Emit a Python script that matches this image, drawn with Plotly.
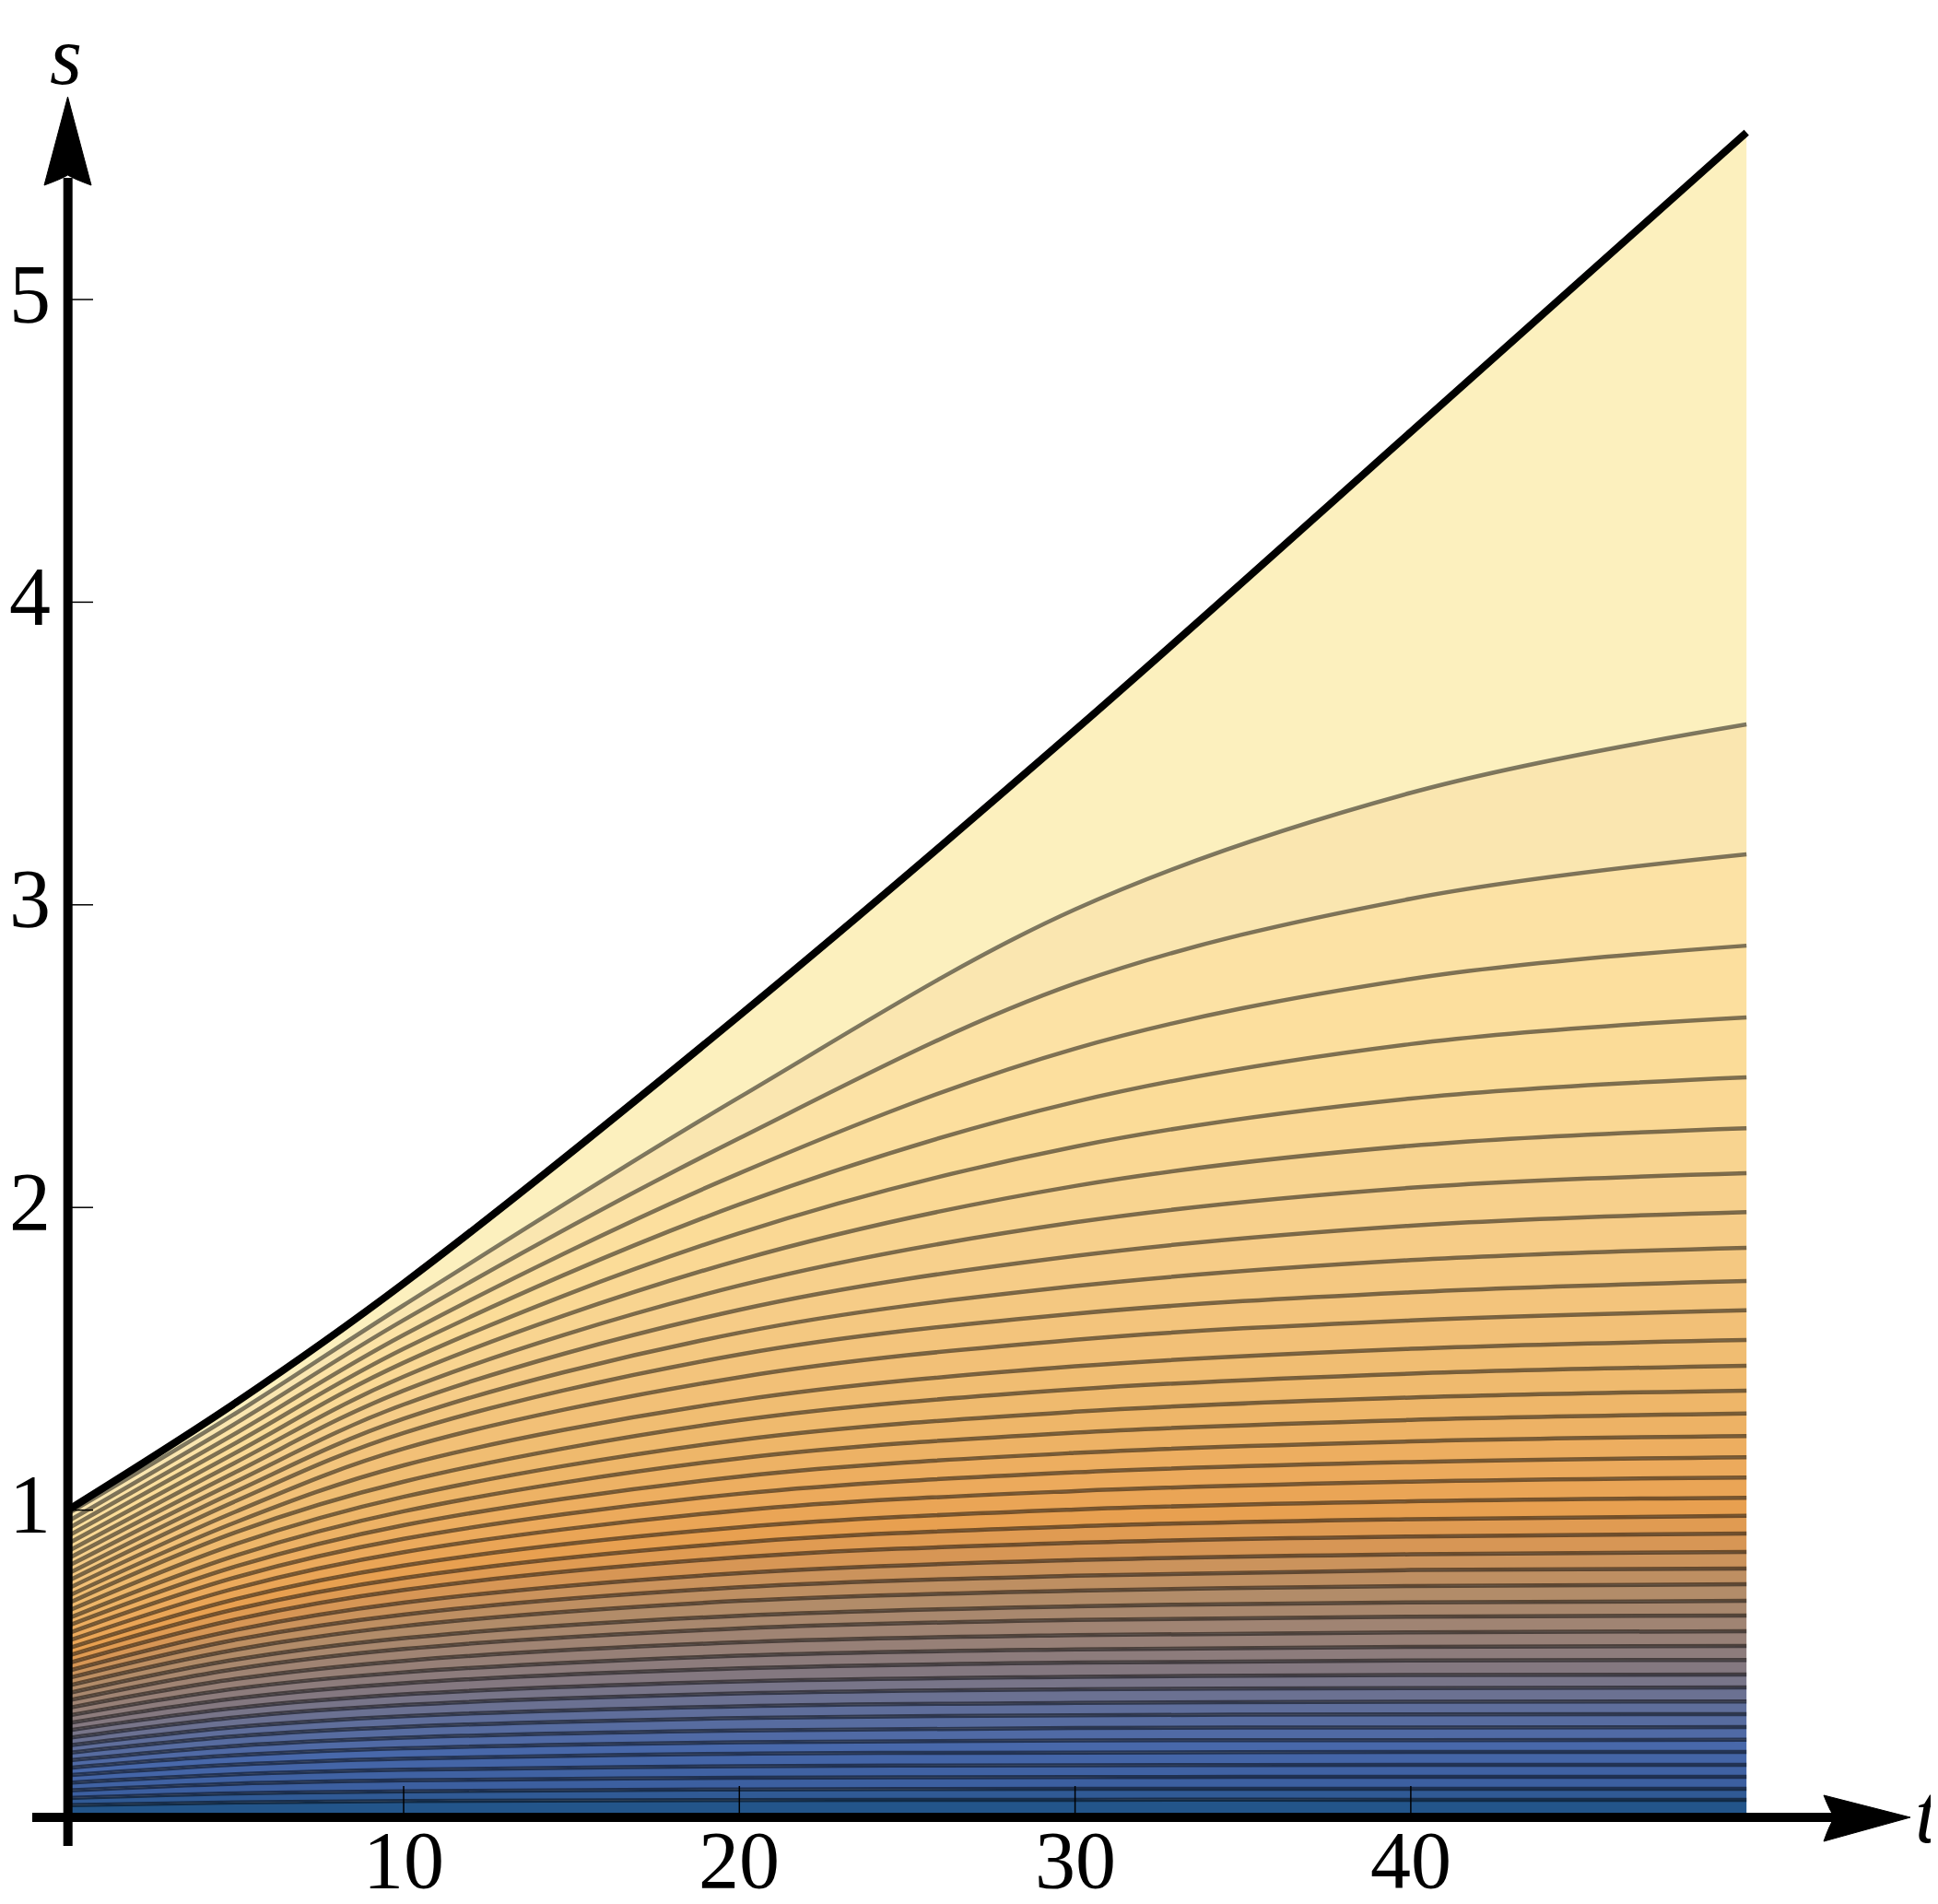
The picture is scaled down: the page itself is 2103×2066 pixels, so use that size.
import plotly.graph_objects as go
from plotly.colors import sample_colorscale

# ---------------- data ----------------
T_SAMPLES = [0, 5, 10, 20, 30, 40, 50]

# contour lines (bottom -> top): value of s at each t sample
S_T0 = [0.025, 0.049, 0.074, 0.099, 0.124, 0.148, 0.173, 0.198, 0.222, 0.247,
        0.272, 0.296, 0.321, 0.346, 0.371, 0.395, 0.420, 0.445, 0.469, 0.494,
        0.519, 0.543, 0.568, 0.593, 0.618, 0.642, 0.667, 0.692, 0.716, 0.741,
        0.766, 0.790, 0.815, 0.840, 0.864, 0.889, 0.914, 0.939, 0.963, 0.988]
S_T5 = [0.034, 0.064, 0.096, 0.127, 0.159, 0.190, 0.221, 0.253, 0.283, 0.315,
        0.346, 0.378, 0.410, 0.442, 0.475, 0.506, 0.539, 0.572, 0.604, 0.639,
        0.673, 0.706, 0.742, 0.778, 0.814, 0.850, 0.888, 0.927, 0.960, 0.995,
        1.030, 1.062, 1.094, 1.126, 1.158, 1.190, 1.222, 1.254, 1.287, 1.320]
S_T10 = [0.039, 0.071, 0.107, 0.142, 0.179, 0.213, 0.248, 0.284, 0.319, 0.356,
         0.391, 0.428, 0.464, 0.502, 0.541, 0.577, 0.617, 0.655, 0.694, 0.736,
         0.776, 0.817, 0.861, 0.905, 0.950, 0.996, 1.044, 1.094, 1.148, 1.203,
         1.255, 1.302, 1.349, 1.395, 1.441, 1.487, 1.533, 1.579, 1.628, 1.677]
S_T20 = [0.042, 0.077, 0.116, 0.154, 0.195, 0.233, 0.272, 0.313, 0.352, 0.394,
         0.434, 0.477, 0.519, 0.563, 0.609, 0.651, 0.700, 0.745, 0.792, 0.844,
         0.893, 0.943, 0.999, 1.054, 1.111, 1.171, 1.232, 1.297, 1.363, 1.439,
         1.514, 1.586, 1.662, 1.742, 1.826, 1.915, 2.010, 2.113, 2.229, 2.364]
S_T30 = [0.043, 0.079, 0.118, 0.157, 0.199, 0.239, 0.280, 0.322, 0.363, 0.408,
         0.449, 0.496, 0.540, 0.587, 0.637, 0.682, 0.734, 0.783, 0.835, 0.892,
         0.946, 1.002, 1.063, 1.125, 1.189, 1.256, 1.325, 1.399, 1.475, 1.563,
         1.649, 1.740, 1.840, 1.951, 2.071, 2.201, 2.349, 2.525, 2.740, 2.985]
S_T40 = [0.043, 0.079, 0.119, 0.158, 0.201, 0.240, 0.282, 0.325, 0.367, 0.412,
         0.455, 0.503, 0.548, 0.596, 0.648, 0.695, 0.749, 0.802, 0.854, 0.913,
         0.970, 1.029, 1.094, 1.159, 1.227, 1.298, 1.372, 1.451, 1.533, 1.627,
         1.720, 1.826, 1.940, 2.065, 2.204, 2.360, 2.540, 2.755, 3.020, 3.370]
S_T50 = [0.043, 0.079, 0.119, 0.158, 0.201, 0.241, 0.283, 0.326, 0.368, 0.414,
         0.457, 0.505, 0.551, 0.600, 0.652, 0.700, 0.755, 0.807, 0.862, 0.923,
         0.981, 1.041, 1.108, 1.175, 1.245, 1.319, 1.395, 1.477, 1.562, 1.660,
         1.757, 1.867, 1.985, 2.113, 2.262, 2.430, 2.628, 2.865, 3.167, 3.596]

# upper boundary curve
BOUNDARY_T = [0, 5, 10, 20, 30, 40, 50]
BOUNDARY_S = [1.0, 1.355, 1.749, 2.634, 3.577, 4.562, 5.552]

X_TICKS = [10, 20, 30, 40]
Y_TICKS = [1, 2, 3, 4, 5]
X_LABEL = "t"
Y_LABEL = "s"

# ---------------- geometry of the canvas ----------------
W, H = 2103, 2066
PX_T = 36.43      # pixels per unit t
PX_S = 328.4      # pixels per unit s
ORIG_X = 65.7     # pixel x of t=0
ORIG_Y = 1959.0   # pixel y (from top) of s=0
X_RANGE = [-ORIG_X / PX_T, (W - ORIG_X) / PX_T]
Y_RANGE = [-(H - ORIG_Y) / PX_S, ORIG_Y / PX_S]


def tx(px):  # pixel x -> data t
    return (px - ORIG_X) / PX_T


def sy(py):  # pixel y (from top) -> data s
    return (ORIG_Y - py) / PX_S


FONT = "Liberation Serif, Times New Roman, serif"

columns = [S_T0, S_T5, S_T10, S_T20, S_T30, S_T40, S_T50]
n_lines = len(S_T0)
contours = [[col[k] for col in columns] for k in range(n_lines)]

palette = [
    [0.0, "rgb(35,85,138)"], [0.05, "rgb(60,95,160)"], [0.125, "rgb(72,104,170)"],
    [0.2, "rgb(95,110,155)"], [0.275, "rgb(132,120,128)"], [0.35, "rgb(160,132,115)"],
    [0.4, "rgb(178,140,105)"], [0.475, "rgb(215,150,85)"], [0.525, "rgb(232,160,80)"],
    [0.575, "rgb(236,170,92)"], [0.65, "rgb(238,182,105)"], [0.75, "rgb(243,196,124)"],
    [0.825, "rgb(247,208,140)"], [0.9, "rgb(251,220,152)"], [0.95, "rgb(252,226,165)"],
    [0.975, "rgb(250,230,176)"], [1.0, "rgb(252,240,190)"],
]
band_colors = sample_colorscale(palette, [j / n_lines for j in range(n_lines + 1)])

fig = go.Figure()

# baseline s=0
fig.add_trace(go.Scatter(x=[T_SAMPLES[0], T_SAMPLES[-1]], y=[0, 0], mode="lines",
                         line=dict(width=0), hoverinfo="skip", showlegend=False))
# filled bands between successive contours
for k in range(n_lines):
    fig.add_trace(go.Scatter(x=T_SAMPLES, y=contours[k], mode="lines",
                             line=dict(width=0, shape="spline"), fill="tonexty",
                             fillcolor=band_colors[k], hoverinfo="skip", showlegend=False))
fig.add_trace(go.Scatter(x=BOUNDARY_T, y=BOUNDARY_S, mode="lines",
                         line=dict(width=0, shape="spline"), fill="tonexty",
                         fillcolor=band_colors[n_lines], hoverinfo="skip", showlegend=False))
# contour lines
for k in range(n_lines):
    fig.add_trace(go.Scatter(x=T_SAMPLES, y=contours[k], mode="lines",
                             line=dict(width=4.5, color="rgba(0,0,0,0.5)", shape="spline"),
                             hoverinfo="skip", showlegend=False))
# boundary
fig.add_trace(go.Scatter(x=BOUNDARY_T, y=BOUNDARY_S, mode="lines",
                         line=dict(width=8, color="black", shape="spline"),
                         hoverinfo="skip", showlegend=False))

shapes = []
axis_s = sy(1964)
# axis lines
shapes.append(dict(type="line", xref="x", yref="y", x0=tx(27), x1=tx(1985),
                   y0=axis_s, y1=axis_s, line=dict(color="black", width=10)))
shapes.append(dict(type="line", xref="x", yref="y", x0=0, x1=0,
                   y0=sy(1995), y1=sy(185), line=dict(color="black", width=10)))


def arrow_path(pts):
    (tip, c1, ctl1, notch, ctl2, c2) = pts
    f = lambda p: f"{p[0]},{p[1]}"
    return f"M {f(tip)} L {f(c1)} Q {f(ctl1)} {f(notch)} Q {f(ctl2)} {f(c2)} Z"


xa = [(tx(2065), sy(1964)), (tx(1971), sy(1940)), (tx(1978), sy(1958)),
      (tx(1983), sy(1964)), (tx(1978), sy(1970)), (tx(1971), sy(1990))]
ya = [(tx(65.5), sy(97)), (tx(40), sy(193)), (tx(59), sy(186)),
      (tx(65.5), sy(182)), (tx(72), sy(186)), (tx(91), sy(193))]
for pts in (xa, ya):
    shapes.append(dict(type="path", xref="x", yref="y", path=arrow_path(pts),
                       fillcolor="black", line=dict(color="black", width=1)))

# ticks (inside)
for xt in X_TICKS:
    shapes.append(dict(type="line", xref="x", yref="y", x0=xt, x1=xt,
                       y0=0, y1=sy(1930), line=dict(color="black", width=1.5)))
for yt in Y_TICKS:
    shapes.append(dict(type="line", xref="x", yref="y", x0=0, x1=tx(93),
                       y0=yt, y1=yt, line=dict(color="black", width=1.5)))

annotations = []
for xt in X_TICKS:
    annotations.append(dict(x=xt, y=sy(2010), xref="x", yref="y", text=str(xt),
                            showarrow=False, xanchor="center", yanchor="middle",
                            font=dict(family=FONT, size=88, color="black")))
for yt in Y_TICKS:
    annotations.append(dict(x=tx(49), y=yt + 6 / PX_S, xref="x", yref="y", text=str(yt),
                            showarrow=False, xanchor="right", yanchor="middle",
                            font=dict(family=FONT, size=90, color="black")))
annotations.append(dict(x=tx(63), y=sy(52), xref="x", yref="y", text=f"<i>{Y_LABEL}</i>",
                        showarrow=False, xanchor="center", yanchor="middle",
                        font=dict(family=FONT, size=90, color="black")))
annotations.append(dict(x=tx(2099), y=sy(1960), xref="x", yref="y", text=f"<i>{X_LABEL}</i>",
                        showarrow=False, xanchor="right", yanchor="middle",
                        font=dict(family=FONT, size=90, color="black")))

fig.update_layout(
    width=W, height=H, margin=dict(l=0, r=0, t=0, b=0),
    paper_bgcolor="white", plot_bgcolor="white",
    xaxis=dict(range=X_RANGE, visible=False, fixedrange=True),
    yaxis=dict(range=Y_RANGE, visible=False, fixedrange=True),
    shapes=shapes, annotations=annotations, showlegend=False,
)

fig.write_html("out.html")
